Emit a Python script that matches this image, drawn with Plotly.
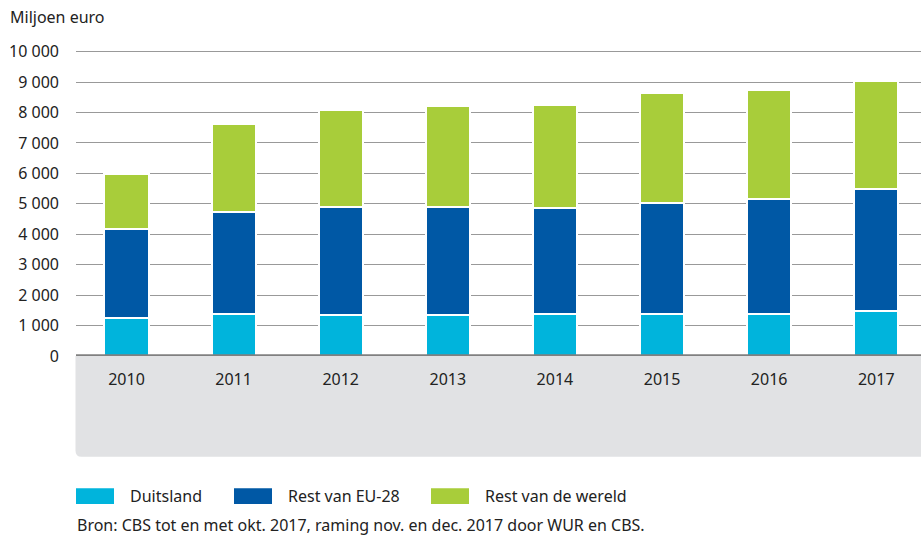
import plotly.graph_objects as go

# Export value by destination, million euro
years = ["2010", "2011", "2012", "2013", "2014", "2015", "2016", "2017"]
duitsland = [1240, 1390, 1340, 1340, 1380, 1370, 1370, 1470]
rest_eu28 = [2920, 3330, 3545, 3545, 3480, 3655, 3790, 4015]
rest_wereld = [1830, 2890, 3210, 3330, 3385, 3630, 3570, 3560]

series_names = ["Duitsland", "Rest van EU-28", "Rest van de wereld"]
series_values = [duitsland, rest_eu28, rest_wereld]
series_colors = ["#00b4dc", "#0058a5", "#a8cd3a"]

y_ticks = [0, 1000, 2000, 3000, 4000, 5000, 6000, 7000, 8000, 9000, 10000]
y_ticktext = [f"{v:,}".replace(",", " ") for v in y_ticks]

source_note = "Bron: CBS tot en met okt. 2017, raming nov. en dec. 2017 door WUR en CBS."
y_title = "Miljoen euro"

W, H = 921, 538
ML, MR, MT, MB = 76, 0, 45, 182
PW, PH = W - ML - MR, H - MT - MB
FONT = "Noto Sans"
TXT = "#222222"


def xp(px):
    return (px - ML) / PW


def yp(py):
    return (MT + PH - py) / PH


fig = go.Figure()
for name, vals, col in zip(series_names, series_values, series_colors):
    fig.add_trace(go.Bar(
        x=years, y=vals, name=name,
        marker=dict(color=col, line=dict(color="white", width=2)),
        width=0.411, showlegend=False,
    ))

shapes = []
# grey band behind the year labels, rounded bottom-left corner
top, bot, left, right, r = 356, 456.7, 75.5, 925, 6
path = (
    f"M {xp(left)},{yp(top)} L {xp(right)},{yp(top)} L {xp(right)},{yp(bot)} "
    f"L {xp(left + r)},{yp(bot)} Q {xp(left)},{yp(bot)} {xp(left)},{yp(bot - r)} Z"
)
shapes.append(dict(type="path", path=path, xref="paper", yref="paper",
                   fillcolor="#e1e2e4", line=dict(width=0), layer="below"))
# baseline
shapes.append(dict(type="line", xref="paper", yref="y", x0=0, x1=1, y0=0, y1=0,
                   line=dict(color="#808080", width=3.5), layer="above"))

annotations = [
    dict(text=y_title, xref="paper", yref="paper", x=xp(8), y=yp(17),
         xanchor="left", yanchor="middle", showarrow=False,
         font=dict(family=FONT, size=16, color=TXT)),
    dict(text=source_note, xref="paper", yref="paper", x=xp(75), y=yp(525),
         xanchor="left", yanchor="middle", showarrow=False,
         font=dict(family=FONT, size=16, color=TXT)),
]

# legend: swatches and labels
legend_x = [76, 234, 431]
for lx, name, col in zip(legend_x, series_names, series_colors):
    shapes.append(dict(type="rect", xref="paper", yref="paper",
                       x0=xp(lx), x1=xp(lx + 38), y0=yp(504), y1=yp(488.3),
                       fillcolor=col, line=dict(width=0)))
    annotations.append(dict(text=name, xref="paper", yref="paper",
                            x=xp(lx + 52), y=yp(496), xanchor="left",
                            yanchor="middle", showarrow=False,
                            font=dict(family=FONT, size=16, color=TXT)))

fig.update_layout(
    width=W, height=H,
    margin=dict(l=ML, r=MR, t=MT, b=MB),
    barmode="stack",
    plot_bgcolor="white", paper_bgcolor="white",
    font=dict(family=FONT, size=16, color=TXT),
    shapes=shapes, annotations=annotations,
    xaxis=dict(type="category", range=[-0.4715, 7.418], showgrid=False,
               showline=False, zeroline=False, ticks="",
               tickfont=dict(family=FONT, size=16, color=TXT),
               ticklabelstandoff=12, fixedrange=True),
    yaxis=dict(range=[0, PH / 30.44 * 1000], tickvals=y_ticks,
               ticktext=y_ticktext, showgrid=True, gridcolor="#999999",
               gridwidth=1, zeroline=False, showline=False, ticks="",
               tickfont=dict(family=FONT, size=16, color=TXT),
               ticklabelstandoff=16, fixedrange=True),
)

fig.write_html("out.html")
